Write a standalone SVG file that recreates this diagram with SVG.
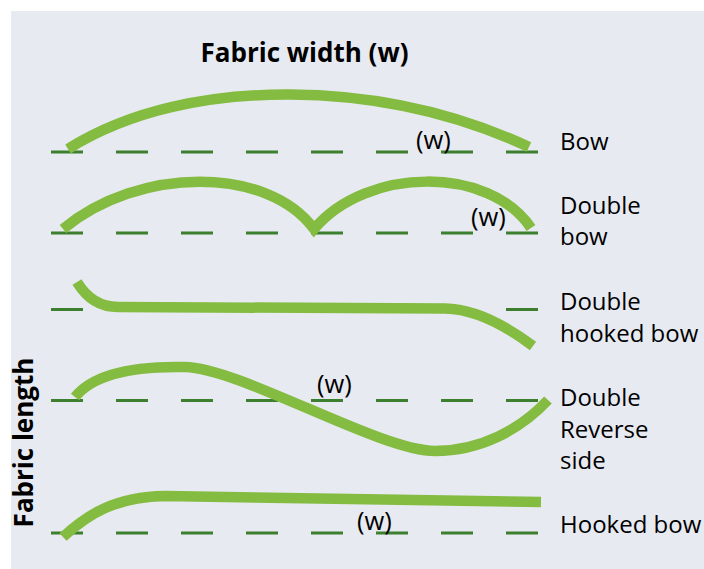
<svg xmlns="http://www.w3.org/2000/svg" width="704" height="569" viewBox="0 0 704 569">
  <style>
    .bg { fill: #e8eaf1; }
    .base { fill: none; stroke: #3b7f2f; stroke-width: 3; stroke-dasharray: 32 33; }
    .curve { fill: none; stroke: #84bc41; stroke-width: 10.5; stroke-linecap: butt; stroke-linejoin: miter; }
    .title { font-family: "Open Sans", "Liberation Sans", sans-serif; font-weight: bold; font-size: 26px; fill: #000; }
    .lbl { font-family: "Open Sans", "Liberation Sans", sans-serif; font-size: 24px; fill: #000; }
    .w { font-family: "Open Sans", "Liberation Sans", sans-serif; font-size: 25.5px; fill: #000; }
  </style>
  <rect class="bg" x="11" y="11" width="693" height="558"/>

  <text class="title" x="304.5" y="61.5" text-anchor="middle">Fabric width (w)</text>
  <text class="title" transform="translate(33,442.5) rotate(-90)" text-anchor="middle">Fabric length</text>

  <g id="connectors">
    <line class="base" x1="51" y1="152" x2="538" y2="152"/>
    <line class="base" x1="51" y1="233" x2="538" y2="233"/>
    <line class="base" x1="51" y1="309.5" x2="538" y2="309.5"/>
    <line class="base" x1="51" y1="400.5" x2="538" y2="400.5"/>
    <line class="base" x1="51" y1="533" x2="538" y2="533"/>
  </g>

  <g id="bow">
    <path class="curve" d="M68,149 C130,110 210,94 290,94.5 C380,95 460,115 529,147"/>
    <text class="w" x="416" y="149">(w)</text>
    <text class="lbl" x="560" y="150">Bow</text>
  </g>

  <g id="double-bow">
    <path class="curve" d="M63,229 C139,166 268,166 314,229 C367,166 490,166 531,228"/>
    <text class="w" x="471" y="226">(w)</text>
    <text class="lbl" x="560" y="213.5">Double</text>
    <text class="lbl" x="560" y="245">bow</text>
  </g>

  <g id="double-hooked-bow">
    <path class="curve" d="M77,282 Q92,307 118,307 L445,308.5 C475,309 505,325 533,346"/>
    <text class="lbl" x="560" y="310">Double</text>
    <text class="lbl" x="560" y="341.5">hooked bow</text>
  </g>

  <g id="double-reverse-side">
    <path class="curve" d="M75,397 C95,372 140,366 185,367 C240,368 380,451 435,451 C480,451 520,430 548,400"/>
    <text class="w" x="317" y="393">(w)</text>
    <text class="lbl" x="560" y="406">Double</text>
    <text class="lbl" x="560" y="437.5">Reverse</text>
    <text class="lbl" x="560" y="469">side</text>
  </g>

  <g id="hooked-bow">
    <path class="curve" d="M63,537 C88,514 115,497 165,496 L541,502"/>
    <text class="w" x="357" y="530">(w)</text>
    <text class="lbl" x="560" y="533">Hooked bow</text>
  </g>
</svg>
